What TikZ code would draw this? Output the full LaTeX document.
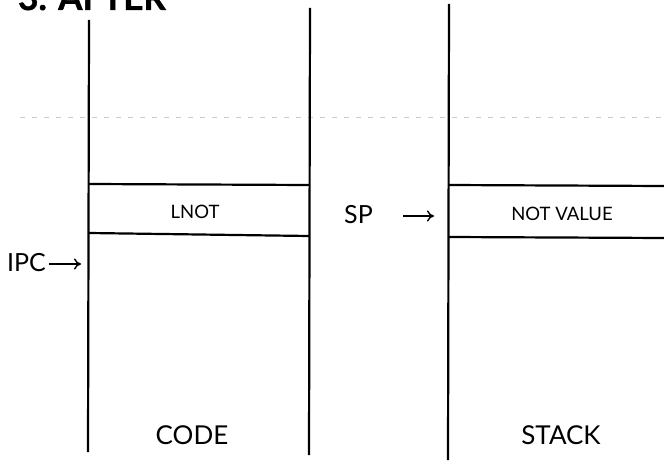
\documentclass[tikz,border=0pt]{standalone}
\usepackage{fontspec}
\setmainfont{Lato}
\newfontfamily\headfont[BoldFeatures={FakeBold=1.2}]{Lato}
\usetikzlibrary{arrows.meta}
\begin{document}
\begin{tikzpicture}[x=1pt,y=-1pt,
  col/.style={line width=2.2pt},
  slot/.style={line width=2.2pt},
  lbl/.style={inner sep=0pt,anchor=base},
  ptr/.style={line width=1.4pt,-{To[length=7pt,width=11pt,line width=1.4pt]}},
  guide/.style={gray!40,line width=1pt,dash pattern=on 5pt off 7pt}]
\useasboundingbox (0,0) rectangle (664,465);
\clip (0,0) rectangle (664,465);
% title (cut off at top, as in the reference)
\node[lbl,anchor=base west,font=\headfont\bfseries\fontsize{35}{35}\selectfont] (title) at (18,10) {3. AFTER};
% guide line
\draw[guide] (20,118) -- (664,118);
% columns
\coordinate (c1t) at (89,20);  \coordinate (c1b) at (88,452);
\coordinate (c2t) at (310,8);  \coordinate (c2b) at (309,455);
\coordinate (s1t) at (449,4);  \coordinate (s1b) at (448,460);
\draw[col] (c1t) -- (c1b);
\draw[col] (c2t) -- (c2b);
\draw[col] (s1t) -- (s1b);
% code slot
\draw[slot] (89,184) -- (309,185);
\draw[slot] (89,233) -- (309,236);
\node[lbl,font=\fontsize{18.5}{18.5}\selectfont] (lnot) at (195,219) {LNOT};
% stack slot
\draw[slot] (449,185) -- (664,186);
\draw[slot] (449,237) -- (664,238);
\node[lbl,font=\fontsize{18.5}{18.5}\selectfont] (nv) at (562,221) {NOT VALUE};
% pointers
\node[lbl,anchor=base west,font=\fontsize{25}{25}\selectfont] (ipc) at (7,272) {IPC};
\coordinate (ipcend) at (81,264);
\draw[ptr] (ipc.east |- ipcend) ++(3,0) -- (ipcend);
\node[lbl,anchor=base west,font=\fontsize{25}{25}\selectfont] (sp) at (344,224) {SP};
\coordinate (spstart) at (403,216);
\coordinate (spend) at (434,216);
\draw[ptr] (spstart) -- (spend);
% column captions
\node[lbl,font=\fontsize{26}{26}\selectfont] (code) at (192,444) {CODE};
\node[lbl,font=\fontsize{26}{26}\selectfont] (stack) at (561,444) {STACK};
\end{tikzpicture}
\end{document}
